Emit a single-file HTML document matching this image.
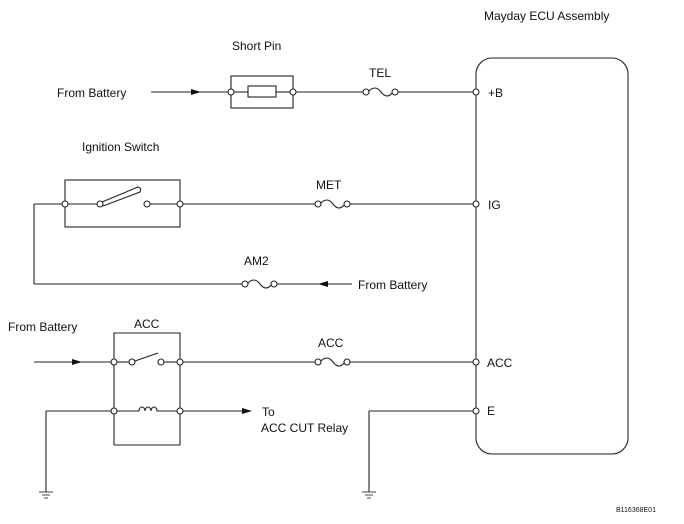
<!DOCTYPE html>
<html><head><style>
html,body{margin:0;padding:0;background:#fff}
svg text{font-family:"Liberation Sans",Arial,sans-serif;font-size:12px;fill:#111}
</style></head><body>
<svg width="684" height="519" viewBox="0 0 684 519" xmlns="http://www.w3.org/2000/svg">
<g stroke="#222" stroke-width="1.1" fill="none">
<rect x="476" y="58" width="152" height="396" rx="16" ry="16"/>
<line x1="151" y1="92" x2="231" y2="92"/>
<rect x="231" y="76" width="62" height="32"/>
<rect x="248" y="86" width="28" height="11"/>
<line x1="234" y1="92" x2="248" y2="92"/>
<line x1="276" y1="92" x2="290" y2="92"/>
<line x1="296" y1="92" x2="363" y2="92"/>
<path d="M368,92 q7,-8 13,0 q6,8 12,0"/>
<line x1="397" y1="92" x2="473" y2="92"/>
<rect x="65" y="180" width="115" height="47"/>
<line x1="34" y1="204" x2="62" y2="204"/>
<line x1="68" y1="204" x2="97" y2="204"/>
<path d="M102,202 L138,187 Q142,188 140,192 L103,206"/>
<line x1="150" y1="204" x2="177" y2="204"/>
<line x1="183" y1="204" x2="315" y2="204"/>
<path d="M320,204 q7,-8 13,0 q6,8 12,0"/>
<line x1="349" y1="204" x2="473" y2="204"/>
<line x1="34" y1="204" x2="34" y2="284"/>
<line x1="34" y1="284" x2="242" y2="284"/>
<path d="M247,284 q7,-8 13,0 q6,8 12,0"/>
<line x1="276" y1="284" x2="352" y2="284"/>
<polyline points="114,445 114,333 180,333 180,445 114,445"/>
<line x1="34" y1="362" x2="111" y2="362"/>
<line x1="117" y1="362" x2="129" y2="362"/>
<line x1="135" y1="361" x2="158" y2="353"/>
<line x1="164" y1="362" x2="177" y2="362"/>
<line x1="183" y1="362" x2="315" y2="362"/>
<path d="M320,362 q7,-8 13,0 q6,8 12,0"/>
<line x1="349" y1="362" x2="473" y2="362"/>
<line x1="46" y1="411" x2="111" y2="411"/>
<line x1="117" y1="411" x2="139" y2="411"/>
<path d="M139,411 a3,4 0 1,1 6,0 a3,4 0 1,1 6,0 a3,4 0 1,1 6,0 L177,411"/>
<line x1="183" y1="411" x2="248" y2="411"/>
<line x1="46" y1="411" x2="46" y2="492"/>
<line x1="369" y1="411" x2="473" y2="411"/>
<line x1="369" y1="411" x2="369" y2="492"/>
</g>
<g stroke="#444" stroke-width="1">
<line x1="39" y1="492" x2="53" y2="492"/><line x1="42" y1="495" x2="50" y2="495"/><line x1="44" y1="498" x2="48" y2="498"/>
<line x1="362" y1="492" x2="376" y2="492"/><line x1="365" y1="495" x2="373" y2="495"/><line x1="367" y1="498" x2="371" y2="498"/>
</g>
<g fill="#111">
<polygon points="201,92 191,89 191,95"/>
<polygon points="318,284 328,281 328,287"/>
<polygon points="82,362 72,359 72,365"/>
<polygon points="252,411 242,408 242,414"/>
</g>
<g fill="#fff" stroke="#222" stroke-width="1.1">
<circle cx="231" cy="92" r="3"/><circle cx="293" cy="92" r="3"/>
<circle cx="366" cy="92" r="3"/><circle cx="395" cy="92" r="3"/>
<circle cx="65" cy="204" r="3"/><circle cx="100" cy="204" r="3"/><circle cx="147" cy="204" r="3"/><circle cx="180" cy="204" r="3"/>
<circle cx="318" cy="204" r="3"/><circle cx="347" cy="204" r="3"/>
<circle cx="245" cy="284" r="3"/><circle cx="274" cy="284" r="3"/>
<circle cx="114" cy="362" r="3"/><circle cx="132" cy="362" r="3"/><circle cx="161" cy="362" r="3"/><circle cx="180" cy="362" r="3"/>
<circle cx="318" cy="362" r="3"/><circle cx="347" cy="362" r="3"/>
<circle cx="114" cy="411" r="3"/><circle cx="180" cy="411" r="3"/>
<circle cx="476" cy="92" r="3"/><circle cx="476" cy="204" r="3"/><circle cx="476" cy="362" r="3"/><circle cx="476" cy="411" r="3"/>
</g>
<text x="484" y="20">Mayday ECU Assembly</text>
<text x="232" y="50">Short Pin</text>
<text x="369" y="77">TEL</text>
<text x="57" y="97">From Battery</text>
<text x="488" y="97">+B</text>
<text x="82" y="151">Ignition Switch</text>
<text x="316" y="189">MET</text>
<text x="488" y="209">IG</text>
<text x="244" y="265">AM2</text>
<text x="358" y="289">From Battery</text>
<text x="8" y="331">From Battery</text>
<text x="134" y="328">ACC</text>
<text x="318" y="347">ACC</text>
<text x="487" y="367">ACC</text>
<text x="487" y="415">E</text>
<text x="262" y="416">To</text>
<text x="261" y="432">ACC CUT Relay</text>
<text x="616" y="512" style="font-size:7px">B116368E01</text>
</svg>
</body></html>
